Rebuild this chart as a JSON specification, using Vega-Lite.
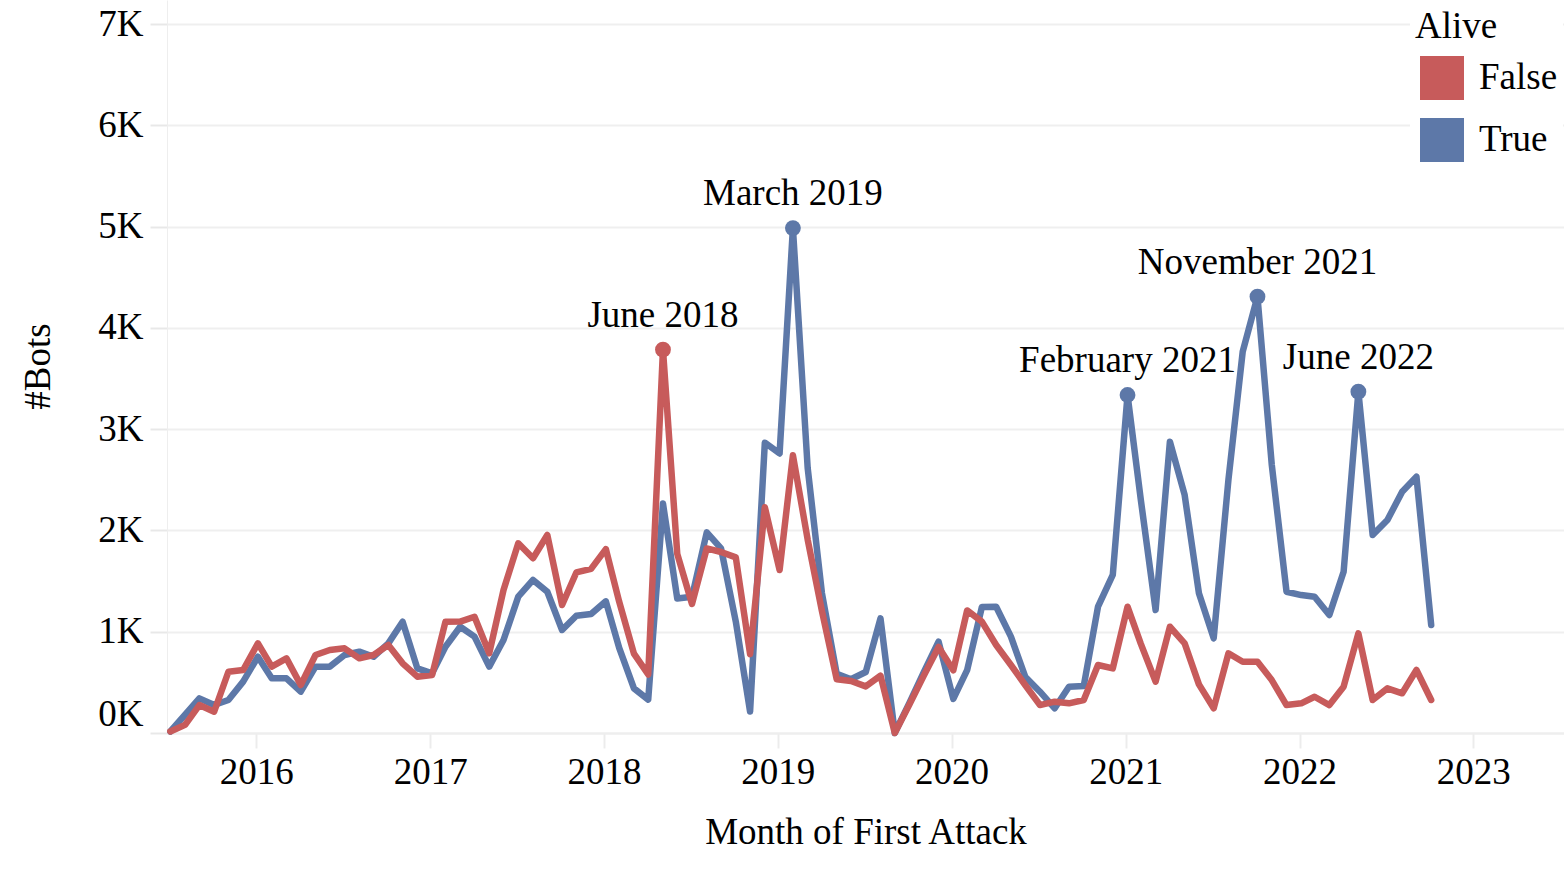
{
  "$schema": "https://vega.github.io/schema/vega-lite/v6.json",
  "width": 1397,
  "height": 733,
  "autosize": {"type": "none"},
  "padding": {"left": 167, "top": 0, "right": 0, "bottom": 154},
  "background": "white",
  "config": {"view": {"stroke": null}, "font": "Liberation Serif"},
  "data": {
    "values": [
      {"month": "2015-08-01", "alive": "True", "bots": 15},
      {"month": "2015-09-01", "alive": "True", "bots": 180},
      {"month": "2015-10-01", "alive": "True", "bots": 342},
      {"month": "2015-11-01", "alive": "True", "bots": 276},
      {"month": "2015-12-01", "alive": "True", "bots": 326},
      {"month": "2016-01-01", "alive": "True", "bots": 507},
      {"month": "2016-02-01", "alive": "True", "bots": 753},
      {"month": "2016-03-01", "alive": "True", "bots": 540},
      {"month": "2016-04-01", "alive": "True", "bots": 540},
      {"month": "2016-05-01", "alive": "True", "bots": 408},
      {"month": "2016-06-01", "alive": "True", "bots": 655},
      {"month": "2016-07-01", "alive": "True", "bots": 655},
      {"month": "2016-08-01", "alive": "True", "bots": 770},
      {"month": "2016-09-01", "alive": "True", "bots": 803},
      {"month": "2016-10-01", "alive": "True", "bots": 753},
      {"month": "2016-11-01", "alive": "True", "bots": 885},
      {"month": "2016-12-01", "alive": "True", "bots": 1099},
      {"month": "2017-01-01", "alive": "True", "bots": 638},
      {"month": "2017-02-01", "alive": "True", "bots": 589},
      {"month": "2017-03-01", "alive": "True", "bots": 852},
      {"month": "2017-04-01", "alive": "True", "bots": 1049},
      {"month": "2017-05-01", "alive": "True", "bots": 951},
      {"month": "2017-06-01", "alive": "True", "bots": 655},
      {"month": "2017-07-01", "alive": "True", "bots": 918},
      {"month": "2017-08-01", "alive": "True", "bots": 1346},
      {"month": "2017-09-01", "alive": "True", "bots": 1511},
      {"month": "2017-10-01", "alive": "True", "bots": 1395},
      {"month": "2017-11-01", "alive": "True", "bots": 1017},
      {"month": "2017-12-01", "alive": "True", "bots": 1158},
      {"month": "2018-01-01", "alive": "True", "bots": 1175},
      {"month": "2018-02-01", "alive": "True", "bots": 1300},
      {"month": "2018-03-01", "alive": "True", "bots": 840},
      {"month": "2018-04-01", "alive": "True", "bots": 441},
      {"month": "2018-05-01", "alive": "True", "bots": 330},
      {"month": "2018-06-01", "alive": "True", "bots": 2265},
      {"month": "2018-07-01", "alive": "True", "bots": 1327},
      {"month": "2018-08-01", "alive": "True", "bots": 1345},
      {"month": "2018-09-01", "alive": "True", "bots": 1981},
      {"month": "2018-10-01", "alive": "True", "bots": 1822},
      {"month": "2018-11-01", "alive": "True", "bots": 1100},
      {"month": "2018-12-01", "alive": "True", "bots": 212},
      {"month": "2019-01-01", "alive": "True", "bots": 2866},
      {"month": "2019-02-01", "alive": "True", "bots": 2760},
      {"month": "2019-03-01", "alive": "True", "bots": 4985, "label": "March 2019"},
      {"month": "2019-04-01", "alive": "True", "bots": 2618},
      {"month": "2019-05-01", "alive": "True", "bots": 1380},
      {"month": "2019-06-01", "alive": "True", "bots": 584},
      {"month": "2019-07-01", "alive": "True", "bots": 531},
      {"month": "2019-08-01", "alive": "True", "bots": 602},
      {"month": "2019-09-01", "alive": "True", "bots": 1132},
      {"month": "2019-10-01", "alive": "True", "bots": 0},
      {"month": "2019-11-01", "alive": "True", "bots": 300},
      {"month": "2019-12-01", "alive": "True", "bots": 600},
      {"month": "2020-01-01", "alive": "True", "bots": 902},
      {"month": "2020-02-01", "alive": "True", "bots": 336},
      {"month": "2020-03-01", "alive": "True", "bots": 620},
      {"month": "2020-04-01", "alive": "True", "bots": 1245},
      {"month": "2020-05-01", "alive": "True", "bots": 1247},
      {"month": "2020-06-01", "alive": "True", "bots": 951},
      {"month": "2020-07-01", "alive": "True", "bots": 556},
      {"month": "2020-08-01", "alive": "True", "bots": 408},
      {"month": "2020-09-01", "alive": "True", "bots": 244},
      {"month": "2020-10-01", "alive": "True", "bots": 457},
      {"month": "2020-11-01", "alive": "True", "bots": 464},
      {"month": "2020-12-01", "alive": "True", "bots": 1247},
      {"month": "2021-01-01", "alive": "True", "bots": 1560},
      {"month": "2021-02-01", "alive": "True", "bots": 3337, "label": "February 2021"},
      {"month": "2021-03-01", "alive": "True", "bots": 2300},
      {"month": "2021-04-01", "alive": "True", "bots": 1214},
      {"month": "2021-05-01", "alive": "True", "bots": 2876},
      {"month": "2021-06-01", "alive": "True", "bots": 2350},
      {"month": "2021-07-01", "alive": "True", "bots": 1379},
      {"month": "2021-08-01", "alive": "True", "bots": 935},
      {"month": "2021-09-01", "alive": "True", "bots": 2500},
      {"month": "2021-10-01", "alive": "True", "bots": 3765},
      {"month": "2021-11-01", "alive": "True", "bots": 4308, "label": "November 2021"},
      {"month": "2021-12-01", "alive": "True", "bots": 2650},
      {"month": "2022-01-01", "alive": "True", "bots": 1395},
      {"month": "2022-02-01", "alive": "True", "bots": 1362},
      {"month": "2022-03-01", "alive": "True", "bots": 1346},
      {"month": "2022-04-01", "alive": "True", "bots": 1165},
      {"month": "2022-05-01", "alive": "True", "bots": 1593},
      {"month": "2022-06-01", "alive": "True", "bots": 3370, "label": "June 2022"},
      {"month": "2022-07-01", "alive": "True", "bots": 1955},
      {"month": "2022-08-01", "alive": "True", "bots": 2103},
      {"month": "2022-09-01", "alive": "True", "bots": 2382},
      {"month": "2022-10-01", "alive": "True", "bots": 2531},
      {"month": "2022-11-01", "alive": "True", "bots": 1066},
      {"month": "2015-08-01", "alive": "False", "bots": 15},
      {"month": "2015-09-01", "alive": "False", "bots": 80},
      {"month": "2015-10-01", "alive": "False", "bots": 276},
      {"month": "2015-11-01", "alive": "False", "bots": 210},
      {"month": "2015-12-01", "alive": "False", "bots": 605},
      {"month": "2016-01-01", "alive": "False", "bots": 622},
      {"month": "2016-02-01", "alive": "False", "bots": 885},
      {"month": "2016-03-01", "alive": "False", "bots": 655},
      {"month": "2016-04-01", "alive": "False", "bots": 737},
      {"month": "2016-05-01", "alive": "False", "bots": 474},
      {"month": "2016-06-01", "alive": "False", "bots": 770},
      {"month": "2016-07-01", "alive": "False", "bots": 819},
      {"month": "2016-08-01", "alive": "False", "bots": 836},
      {"month": "2016-09-01", "alive": "False", "bots": 737},
      {"month": "2016-10-01", "alive": "False", "bots": 770},
      {"month": "2016-11-01", "alive": "False", "bots": 869},
      {"month": "2016-12-01", "alive": "False", "bots": 688},
      {"month": "2017-01-01", "alive": "False", "bots": 556},
      {"month": "2017-02-01", "alive": "False", "bots": 573},
      {"month": "2017-03-01", "alive": "False", "bots": 1099},
      {"month": "2017-04-01", "alive": "False", "bots": 1100},
      {"month": "2017-05-01", "alive": "False", "bots": 1148},
      {"month": "2017-06-01", "alive": "False", "bots": 787},
      {"month": "2017-07-01", "alive": "False", "bots": 1412},
      {"month": "2017-08-01", "alive": "False", "bots": 1873},
      {"month": "2017-09-01", "alive": "False", "bots": 1725},
      {"month": "2017-10-01", "alive": "False", "bots": 1955},
      {"month": "2017-11-01", "alive": "False", "bots": 1264},
      {"month": "2017-12-01", "alive": "False", "bots": 1585},
      {"month": "2018-01-01", "alive": "False", "bots": 1620},
      {"month": "2018-02-01", "alive": "False", "bots": 1815},
      {"month": "2018-03-01", "alive": "False", "bots": 1296},
      {"month": "2018-04-01", "alive": "False", "bots": 783},
      {"month": "2018-05-01", "alive": "False", "bots": 578},
      {"month": "2018-06-01", "alive": "False", "bots": 3785, "label": "June 2018"},
      {"month": "2018-07-01", "alive": "False", "bots": 1769},
      {"month": "2018-08-01", "alive": "False", "bots": 1274},
      {"month": "2018-09-01", "alive": "False", "bots": 1822},
      {"month": "2018-10-01", "alive": "False", "bots": 1787},
      {"month": "2018-11-01", "alive": "False", "bots": 1734},
      {"month": "2018-12-01", "alive": "False", "bots": 779},
      {"month": "2019-01-01", "alive": "False", "bots": 2229},
      {"month": "2019-02-01", "alive": "False", "bots": 1609},
      {"month": "2019-03-01", "alive": "False", "bots": 2742},
      {"month": "2019-04-01", "alive": "False", "bots": 1910},
      {"month": "2019-05-01", "alive": "False", "bots": 1203},
      {"month": "2019-06-01", "alive": "False", "bots": 531},
      {"month": "2019-07-01", "alive": "False", "bots": 513},
      {"month": "2019-08-01", "alive": "False", "bots": 460},
      {"month": "2019-09-01", "alive": "False", "bots": 567},
      {"month": "2019-10-01", "alive": "False", "bots": 0},
      {"month": "2019-11-01", "alive": "False", "bots": 283},
      {"month": "2019-12-01", "alive": "False", "bots": 566},
      {"month": "2020-01-01", "alive": "False", "bots": 849},
      {"month": "2020-02-01", "alive": "False", "bots": 619},
      {"month": "2020-03-01", "alive": "False", "bots": 1210},
      {"month": "2020-04-01", "alive": "False", "bots": 1100},
      {"month": "2020-05-01", "alive": "False", "bots": 869},
      {"month": "2020-06-01", "alive": "False", "bots": 671},
      {"month": "2020-07-01", "alive": "False", "bots": 474},
      {"month": "2020-08-01", "alive": "False", "bots": 276},
      {"month": "2020-09-01", "alive": "False", "bots": 309},
      {"month": "2020-10-01", "alive": "False", "bots": 293},
      {"month": "2020-11-01", "alive": "False", "bots": 326},
      {"month": "2020-12-01", "alive": "False", "bots": 671},
      {"month": "2021-01-01", "alive": "False", "bots": 638},
      {"month": "2021-02-01", "alive": "False", "bots": 1247},
      {"month": "2021-03-01", "alive": "False", "bots": 880},
      {"month": "2021-04-01", "alive": "False", "bots": 507},
      {"month": "2021-05-01", "alive": "False", "bots": 1049},
      {"month": "2021-06-01", "alive": "False", "bots": 885},
      {"month": "2021-07-01", "alive": "False", "bots": 480},
      {"month": "2021-08-01", "alive": "False", "bots": 244},
      {"month": "2021-09-01", "alive": "False", "bots": 787},
      {"month": "2021-10-01", "alive": "False", "bots": 704},
      {"month": "2021-11-01", "alive": "False", "bots": 704},
      {"month": "2021-12-01", "alive": "False", "bots": 523},
      {"month": "2022-01-01", "alive": "False", "bots": 276},
      {"month": "2022-02-01", "alive": "False", "bots": 293},
      {"month": "2022-03-01", "alive": "False", "bots": 358},
      {"month": "2022-04-01", "alive": "False", "bots": 276},
      {"month": "2022-05-01", "alive": "False", "bots": 457},
      {"month": "2022-06-01", "alive": "False", "bots": 984},
      {"month": "2022-07-01", "alive": "False", "bots": 326},
      {"month": "2022-08-01", "alive": "False", "bots": 441},
      {"month": "2022-09-01", "alive": "False", "bots": 392},
      {"month": "2022-10-01", "alive": "False", "bots": 622},
      {"month": "2022-11-01", "alive": "False", "bots": 326}
    ]
  },
  "encoding": {
    "x": {
      "field": "month",
      "type": "temporal",
      "title": "Month of First Attack",
      "scale": {
        "domain": [
          {"year": 2015, "month": 7, "date": 25},
          {"year": 2023, "month": 8, "date": 7}
        ]
      },
      "axis": {
        "format": "%Y",
        "tickCount": {"interval": "year", "step": 1},
        "grid": false,
        "tickOffset": 13,
        "tickSize": 15,
        "tickWidth": 2,
        "tickColor": "#ececec",
        "domainColor": "#eeeeee",
        "domainWidth": 2,
        "labelFont": "Liberation Serif",
        "labelFontSize": 37,
        "labelColor": "black",
        "labelBaseline": "alphabetic",
        "labelPadding": 35,
        "labelFlush": false,
        "titleFont": "Liberation Serif",
        "titleFontSize": 37,
        "titleFontWeight": "normal",
        "titleColor": "black",
        "titleBaseline": "alphabetic",
        "titleY": 110
      }
    },
    "y": {
      "field": "bots",
      "type": "quantitative",
      "title": "#Bots",
      "scale": {"domain": [0, 7237], "nice": false},
      "axis": {
        "values": [0, 1000, 2000, 3000, 4000, 5000, 6000, 7000],
        "labelExpr": "(datum.value / 1000) + 'K'",
        "grid": true,
        "gridColor": "#efefef",
        "gridWidth": 2,
        "tickSize": 17,
        "tickWidth": 2,
        "tickColor": "#e8e8e8",
        "domainColor": "#eeeeee",
        "domainWidth": 1,
        "labelFont": "Liberation Serif",
        "labelFontSize": 37,
        "labelColor": "black",
        "labelPadding": 7,
        "labelFlush": 5,
        "titleFont": "Liberation Serif",
        "titleFontSize": 37,
        "titleFontWeight": "normal",
        "titleColor": "black",
        "titleAngle": -90,
        "titleAlign": "center",
        "titleBaseline": "middle",
        "titleX": -129,
        "titleY": 366
      }
    },
    "color": {
      "field": "alive",
      "type": "nominal",
      "scale": {"domain": ["False", "True"], "range": ["#c75b5b", "#5d78a8"]},
      "legend": {
        "orient": "none",
        "legendX": 1243,
        "legendY": 4,
        "title": "Alive",
        "titleFont": "Liberation Serif",
        "titleFontSize": 37,
        "titleFontWeight": "normal",
        "titleColor": "black",
        "titlePadding": 10,
        "labelFont": "Liberation Serif",
        "labelFontSize": 37,
        "labelColor": "black",
        "labelOffset": 15,
        "symbolType": "square",
        "symbolSize": 1936,
        "symbolStrokeWidth": 0,
        "symbolOffset": 5,
        "rowPadding": 18,
        "padding": 5,
        "fillColor": "white",
        "encode": {
          "symbols": {
            "update": {
              "fill": {"scale": "color", "field": "value"},
              "fillOpacity": {"value": 1},
              "strokeWidth": {"value": 0}
            }
          }
        }
      }
    }
  },
  "layer": [
    {
      "mark": {"type": "line", "strokeWidth": 6.5, "strokeJoin": "round", "strokeCap": "round"}
    },
    {
      "transform": [{"filter": "datum.label != null"}],
      "mark": {"type": "point", "filled": true, "size": 250, "opacity": 1}
    },
    {
      "transform": [{"filter": "datum.label != null"}],
      "mark": {
        "type": "text",
        "font": "Liberation Serif",
        "fontSize": 37,
        "dy": -23,
        "align": "center",
        "baseline": "alphabetic"
      },
      "encoding": {
        "text": {"field": "label"},
        "color": {"value": "black"}
      }
    }
  ]
}
